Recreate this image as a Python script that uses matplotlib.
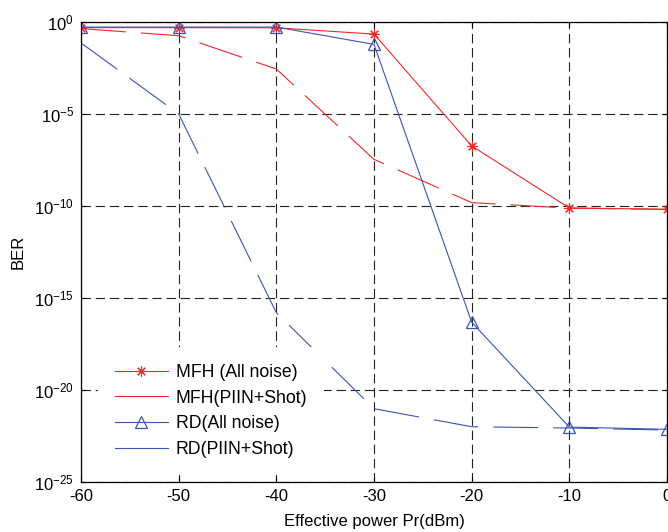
import matplotlib
matplotlib.use("Agg")
import matplotlib.pyplot as plt
from matplotlib.lines import Line2D
from matplotlib.ticker import FixedLocator, FuncFormatter, NullLocator
import numpy as np

plt.rcParams['font.family'] = ['Liberation Sans', 'DejaVu Sans']
plt.rcParams['mathtext.fontset'] = 'custom'
plt.rcParams['mathtext.rm'] = 'Liberation Sans'
plt.rcParams['mathtext.it'] = 'Liberation Sans'
plt.rcParams['lines.scale_dashes'] = False

# Data (log10 BER)
power_dbm = [-60, -50, -40, -30, -20, -10, 0]
mfh_all_log = [-0.29, -0.29, -0.30, -0.64, -6.72, -10.09, -10.16]
mfh_piin_log = [-0.34, -0.73, -2.54, -7.45, -9.80, -10.10, -10.17]
rd_all_log = [-0.26, -0.26, -0.26, -1.20, -16.30, -22.00, -22.12]
rd_piin_log = [-1.12, -4.98, -15.78, -21.00, -21.98, -22.05, -22.16]

labels = ['MFH (All noise)', 'MFH(PIIN+Shot)', 'RD(All noise)', 'RD(PIIN+Shot)']
x_ticks = [-60, -50, -40, -30, -20, -10, 0]
y_tick_exps = [0, -5, -10, -15, -20, -25]

RED = '#f02828'
BLUE = '#3a55b0'
STAR = (8, 2, 0)

fig = plt.figure(figsize=(6.68, 5.32), dpi=100)
ax = fig.add_axes([81/668, (532-482.3)/532, (667-81)/668, (482.3-22.3)/532])

def pw(v):
    return [10.0**e for e in v]

dash = (0, (32.4, 10.8))
ax.plot(power_dbm, pw(mfh_all_log), color=RED, lw=0.8, marker=STAR, ms=7.5, mew=0.8)
ax.plot(power_dbm, pw(mfh_piin_log), color=RED, lw=0.8, linestyle=dash)
ax.plot(power_dbm, pw(rd_all_log), color=BLUE, lw=0.8, marker='^', ms=9, mfc='none', mew=0.9)
ax.plot(power_dbm, pw(rd_piin_log), color=BLUE, lw=0.8, linestyle=dash)

ax.set_yscale('log')
ax.set_xlim(-60, 0)
ax.set_ylim(1e-25, 1e0)
ax.xaxis.set_major_locator(FixedLocator(x_ticks))
ax.yaxis.set_major_locator(FixedLocator([10.0**e for e in y_tick_exps]))
ax.yaxis.set_minor_locator(NullLocator())
ax.yaxis.set_major_formatter(FuncFormatter(lambda v, p: r'$\mathregular{10^{%d}}$' % int(round(np.log10(v)))))
ax.xaxis.set_major_formatter(FuncFormatter(lambda v, p: '%d' % v))

ax.grid(True, which='major', color='#222222', lw=0.8, linestyle=(0, (6.8, 3.4)))
ax.tick_params(direction='in', length=3.6, width=0.8, top=True, right=True, labelsize=12, pad=5)
for s in ax.spines.values():
    s.set_linewidth(0.9)

ax.set_xlabel('Effective power Pr(dBm)', fontsize=12, labelpad=7)
ax.set_ylabel('BER', fontsize=12, labelpad=6)

handles = [
    Line2D([], [], color=RED, lw=0.8, marker=STAR, ms=7.5, mew=0.8),
    Line2D([], [], color=RED, lw=0.8),
    Line2D([], [], color=BLUE, lw=0.8, marker='^', ms=9, mfc='none', mew=0.9),
    Line2D([], [], color=BLUE, lw=0.8),
]
leg = fig.legend(handles, labels, loc='upper left', bbox_to_anchor=(98/668, 1-347/532),
                 frameon=True, facecolor='white', edgecolor='none', framealpha=1.0, fancybox=False,
                 fontsize=12.7, handlelength=3.0, handletextpad=0.45,
                 labelspacing=0.5, borderpad=0.95, borderaxespad=0, numpoints=1)

fig.savefig('out.png', dpi=100)
